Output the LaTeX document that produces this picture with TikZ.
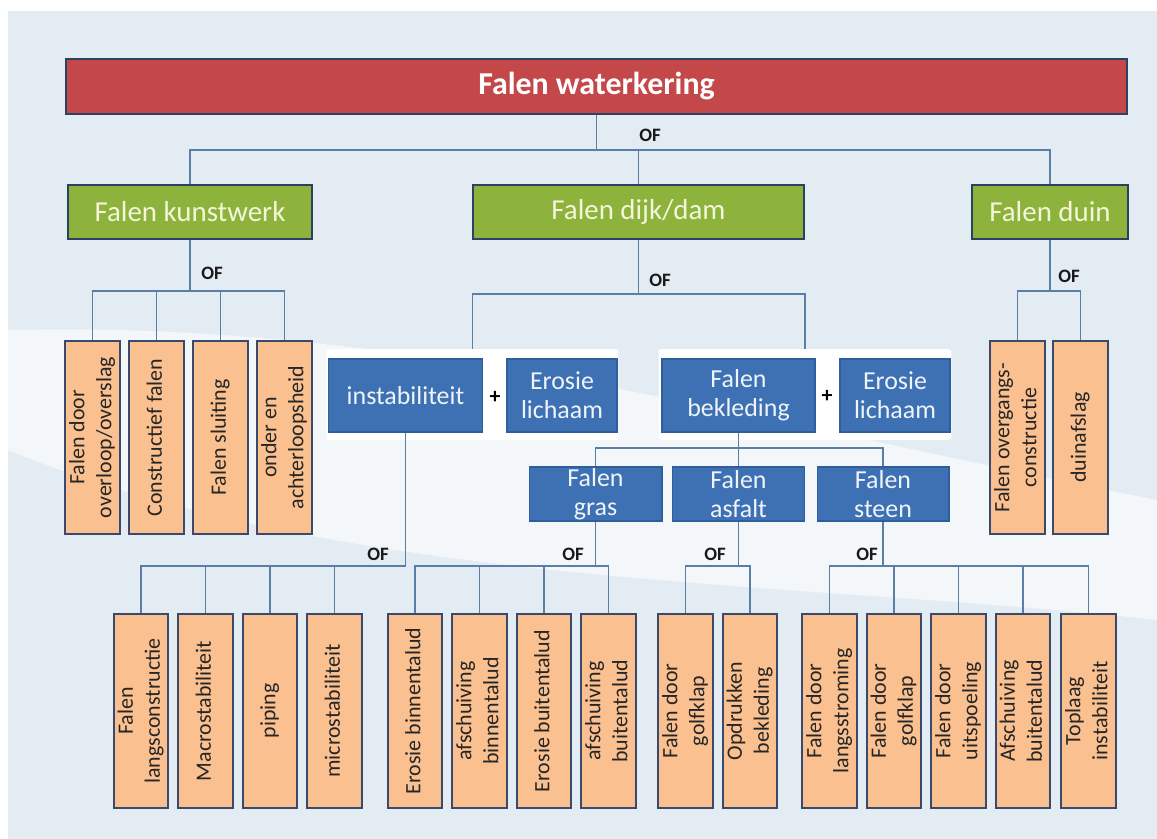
\documentclass[tikz,border=0pt]{standalone}
\usepackage{fontspec}
\setmainfont{Carlito}
\usepackage{graphicx}
\definecolor{paper}{HTML}{E3EBF3}
\definecolor{barred}{HTML}{C4484A}
\definecolor{navy}{HTML}{2C4262}
\definecolor{grassgreen}{HTML}{8DB33C}
\definecolor{paleyellow}{HTML}{F3F6DA}
\definecolor{boxblue}{HTML}{3E71B4}
\definecolor{boxblueline}{HTML}{2F5E9C}
\definecolor{leaforange}{HTML}{FAC08F}
\definecolor{leafline}{HTML}{3B4A6B}
\definecolor{linkblue}{HTML}{5B7EA8}
\newcommand{\vtext}[1]{\rotatebox{90}{\begin{tabular}{@{}c@{}}#1\end{tabular}}}
\begin{document}
\begin{tikzpicture}[x=1bp,y=-1bp,
	link/.style={draw=linkblue, line width=1.3pt},
	topbox/.style={fill=barred, draw=navy, line width=2pt, inner sep=0pt, minimum width=1065, minimum height=55, text=white, font=\fontsize{32}{36}\selectfont\bfseries},
	midbox/.style={fill=grassgreen, draw=navy, line width=2pt, inner sep=0pt, minimum height=54, text=paleyellow, font=\fontsize{29}{33}\selectfont},
	bluebox/.style={fill=boxblue, draw=boxblueline, line width=1.5pt, inner sep=0pt, align=center, text=white!92!boxblue, font=\fontsize{26}{29}\selectfont},
	leaf/.style={fill=leaforange, draw=leafline, line width=2pt, inner sep=0pt, minimum width=55, text=black!85, font=\fontsize{22}{27}\selectfont},
	grp/.style={fill=white, rounded corners=3pt, inner sep=0pt},
	of/.style={inner sep=0pt, text=black!90, font=\fontsize{19}{21}\selectfont\bfseries},
	plus/.style={inner sep=0pt, font=\fontsize{22}{24}\selectfont\bfseries}]
	\useasboundingbox (0,0) rectangle (1157,839);
	% background
	\fill [white] (0,0) rectangle (1157,839);
	\fill [paper] (8,11) rectangle (1157,839);
	\fill [white, opacity=.6] (8,330) .. controls (400,320) and (750,420) .. (1157,500) -- (1157,620) .. controls (800,580) and (350,590) .. (8,450) -- cycle;

	\coordinate (busT) at (0,150);
	\coordinate (busK) at (0,291);
	\coordinate (busD) at (0,294);
	\coordinate (busB) at (0,448);
	\coordinate (busL) at (0,566);

	\node [topbox] (title) at (596.5,86.5) {Falen waterkering};
	\node [midbox, minimum width=244] (kw) at (190,212) {Falen kunstwerk};
	\node [midbox, minimum width=333] (dijk) at (638.5,212) {Falen dijk/dam};
	\node [midbox, minimum width=156] (duin) at (1050,212) {Falen duin};

	\node [grp, minimum width=293, minimum height=91] (grpA) at (472.5,394.5) {};
	\node [grp, minimum width=294, minimum height=91] (grpB) at (805,394.5) {};
	\node [bluebox, minimum width=155, minimum height=73] (instab) at (405.5,395.5) {instabiliteit};
	\node [bluebox, minimum width=110, minimum height=73] (eros1) at (562,395.5) {Erosie\\lichaam};
	\node [bluebox, minimum width=154, minimum height=73] (bekl) at (738.5,395.5) {Falen\\bekleding};
	\node [bluebox, minimum width=110, minimum height=73] (eros2) at (895,395.5) {Erosie\\lichaam};
	\node [plus] (plus1) at (495,397) {+};
	\node [plus] (plus2) at (827,396) {+};
	\node [bluebox, minimum width=133, minimum height=54] (gras) at (595.5,494) {Falen\\gras};
	\node [bluebox, minimum width=132, minimum height=54] (asfalt) at (738.5,494) {Falen\\asfalt};
	\node [bluebox, minimum width=132, minimum height=54] (steen) at (883,494) {Falen\\steen};

	\node [leaf, minimum height=193] (k1) at (92.5,437.5) {\vtext{Falen door\\overloop/overslag}};
	\node [leaf, minimum height=193] (k2) at (156.5,437.5) {\vtext{Constructief falen}};
	\node [leaf, minimum height=193] (k3) at (220.5,437.5) {\vtext{Falen sluiting}};
	\node [leaf, minimum height=193] (k4) at (284.5,437.5) {\vtext{onder en\\achterloopsheid}};
	\node [leaf, minimum height=193] (d1) at (1017.5,437.5) {\vtext{Falen overgangs-\\constructie}};
	\node [leaf, minimum height=193] (d2) at (1080.5,437.5) {\vtext{duinafslag}};

	\node [leaf, minimum height=194] (i1) at (141,711) {\vtext{Falen\\langsconstructie}};
	\node [leaf, minimum height=194] (i2) at (205.5,711) {\vtext{Macrostabiliteit}};
	\node [leaf, minimum height=194] (i3) at (270,711) {\vtext{piping}};
	\node [leaf, minimum height=194] (i4) at (334.5,711) {\vtext{microstabiliteit}};
	\node [leaf, minimum height=194] (g1) at (415,711) {\vtext{Erosie binnentalud}};
	\node [leaf, minimum height=194] (g2) at (479.5,711) {\vtext{afschuiving\\binnentalud}};
	\node [leaf, minimum height=194] (g3) at (544,711) {\vtext{Erosie buitentalud}};
	\node [leaf, minimum height=194] (g4) at (608.5,711) {\vtext{afschuiving\\buitentalud}};
	\node [leaf, minimum height=194] (a1) at (685.5,711) {\vtext{Falen door\\golfklap}};
	\node [leaf, minimum height=194] (a2) at (750,711) {\vtext{Opdrukken\\bekleding}};
	\node [leaf, minimum height=194] (s1) at (829.5,711) {\vtext{Falen door\\langsstroming}};
	\node [leaf, minimum height=194] (s2) at (894,711) {\vtext{Falen door\\golfklap}};
	\node [leaf, minimum height=194] (s3) at (958.5,711) {\vtext{Falen door\\uitspoeling}};
	\node [leaf, minimum height=194] (s4) at (1023,711) {\vtext{Afschuiving\\buitentalud}};
	\node [leaf, minimum height=194] (s5) at (1088.5,711) {\vtext{Toplaag\\instabiliteit}};

	% connectors
	\draw [link] (title.south) -- (title.south |- busT);
	\draw [link] (kw.north) |- (duin.north |- busT) -- (duin.north);
	\draw [link] (dijk.north) -- (dijk.north |- busT);

	\draw [link] (kw.south) -- (kw.south |- busK);
	\draw [link] (k1.north) |- (k4.north |- busK) -- (k4.north);
	\foreach \n in {k2, k3} {
		\draw [link] (\n.north) -- (\n.north |- busK);
	}
	\draw [link] (duin.south) -- (duin.south |- busK);
	\draw [link] (d1.north) |- (d2.north |- busK) -- (d2.north);

	\draw [link] (dijk.south) -- (dijk.south |- busD);
	\draw [link] (grpA.north) |- (grpB.north |- busD) -- (grpB.north);

	\draw [link] (bekl.south) -- (bekl.south |- busB);
	\draw [link] (gras.north) |- (steen.north |- busB) -- (steen.north);
	\draw [link] (asfalt.north) -- (asfalt.north |- busB);

	\draw [link] (instab.south) |- (i1.north |- busL) -- (i1.north);
	\foreach \n in {i2, i3, i4} {
		\draw [link] (\n.north) -- (\n.north |- busL);
	}
	\draw [link] (gras.south) -- (gras.south |- busL);
	\draw [link] (g1.north) |- (g4.north |- busL) -- (g4.north);
	\foreach \n in {g2, g3} {
		\draw [link] (\n.north) -- (\n.north |- busL);
	}
	\draw [link] (asfalt.south) -- (asfalt.south |- busL);
	\draw [link] (a1.north) |- (a2.north |- busL) -- (a2.north);
	\draw [link] (steen.south) -- (steen.south |- busL);
	\draw [link] (s1.north) |- (s5.north |- busL) -- (s5.north);
	\foreach \n in {s2, s3, s4} {
		\draw [link] (\n.north) -- (\n.north |- busL);
	}

	\node [of] (ofTop) at (650,135) {OF};
	\node [of] (ofKw) at (212,273) {OF};
	\node [of] (ofDijk) at (660,280) {OF};
	\node [of] (ofDuin) at (1069,276) {OF};
	\node [of] (ofInstab) at (378,554) {OF};
	\node [of] (ofGras) at (573,554) {OF};
	\node [of] (ofAsfalt) at (715,554) {OF};
	\node [of] (ofSteen) at (867,554) {OF};
\end{tikzpicture}
\end{document}
